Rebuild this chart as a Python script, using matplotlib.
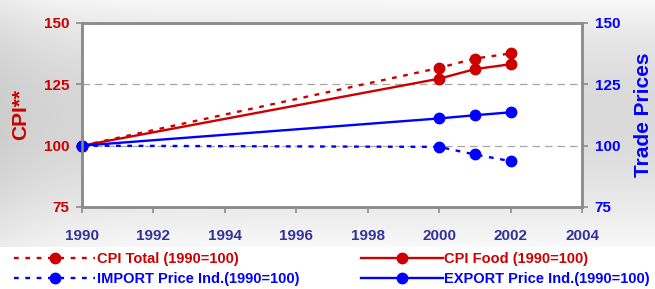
import numpy as np
import matplotlib
matplotlib.use('Agg')
import matplotlib.pyplot as plt

plt.rcParams['font.family'] = ['Liberation Sans', 'DejaVu Sans']
plt.rcParams['font.weight'] = 'bold'

# data
years = [1990, 2000, 2001, 2002]
cpi_total = [100, 131.7, 135.5, 137.6]
cpi_food = [100, 127.3, 131.2, 133.2]
import_price = [100, 99.5, 96.4, 93.7]
export_price = [100, 111.1, 112.4, 113.6]
yticks = [75, 100, 125, 150]
xticks = [1990, 1992, 1994, 1996, 1998, 2000, 2002, 2004]

red = '#CC0000'
blue = '#0000FF'
frame = '#8C8C8C'

fig = plt.figure(figsize=(6.55, 2.89), dpi=100)
fig.patch.set_facecolor('white')

# grey gradient backdrop behind the chart part (legend strip stays white)
bg = fig.add_axes([0, 1 - 247 / 289, 1, 247 / 289], zorder=-10)
rows = np.linspace(0, 1, 200)
shade = 0.975 - 0.12 * np.sin(np.pi * rows ** 0.9)
cols = np.linspace(0, 1, 300)
side = 0.05 * np.exp(-cols / 0.1)
img = shade[:, None] - side[None, :]
bg.imshow(np.dstack([img, img, img]), aspect='auto', extent=[0, 1, 0, 1],
          origin='upper', interpolation='bilinear')
bg.set_axis_off()

ax = fig.add_axes([82 / 655, 1 - 207 / 289, 500 / 655, 184 / 289])
ax.set_facecolor('white')
ax2 = ax.twinx()

dash = (0, (2.0, 2.8))
l1, = ax.plot(years, cpi_total, color=red, lw=1.7, linestyle=dash,
              marker='o', markersize=7.5, label='CPI Total (1990=100)')
l2, = ax.plot(years, cpi_food, color=red, lw=1.7,
              marker='o', markersize=7.5, label='CPI Food (1990=100)')
l3, = ax2.plot(years, import_price, color=blue, lw=1.7, linestyle=dash,
               marker='o', markersize=7.5, label='IMPORT Price Ind.(1990=100)')
l4, = ax2.plot(years, export_price, color=blue, lw=1.7,
               marker='o', markersize=7.5, label='EXPORT Price Ind.(1990=100)')
for ln in (l1, l2, l3, l4):
    ln.set_clip_on(False)

for a in (ax, ax2):
    a.set_xlim(1990, 2004)
    a.set_ylim(75, 150)
    a.set_yticks(yticks)
    for s in a.spines.values():
        s.set_color(frame)
        s.set_linewidth(1.8)

ax.set_xticks(xticks)
ax.grid(axis='y', color='#A6A6A6', linestyle=(0, (6, 4)), lw=0.9)
ax.set_axisbelow(True)

ax.tick_params(axis='x', colors=frame, length=4, width=1.2, pad=11.5,
               labelsize=11, labelcolor='#333399')
ax.tick_params(axis='y', colors=frame, length=4, width=1.2, pad=5,
               labelsize=11, labelcolor=red)
ax2.tick_params(axis='y', colors=frame, length=4, width=1.2, pad=5,
                labelsize=11, labelcolor=blue)

ax.set_ylabel('CPI**', color=red, fontsize=15, fontweight='bold', labelpad=10)
ax2.set_ylabel('Trade Prices', color=blue, fontsize=15, fontweight='bold',
               labelpad=10)

fig.legend([l1, l3, l2, l4],
           [l1.get_label(), l3.get_label(), l2.get_label(), l4.get_label()],
           ncol=2, loc='upper left', bbox_to_anchor=(8 / 655, 1 - 246 / 289),
           frameon=False, fontsize=10.5, labelcolor='linecolor',
           handlelength=5.6, handletextpad=0.12, columnspacing=4.2,
           labelspacing=0.42, borderaxespad=0)

fig.savefig('out.png', dpi=100)
